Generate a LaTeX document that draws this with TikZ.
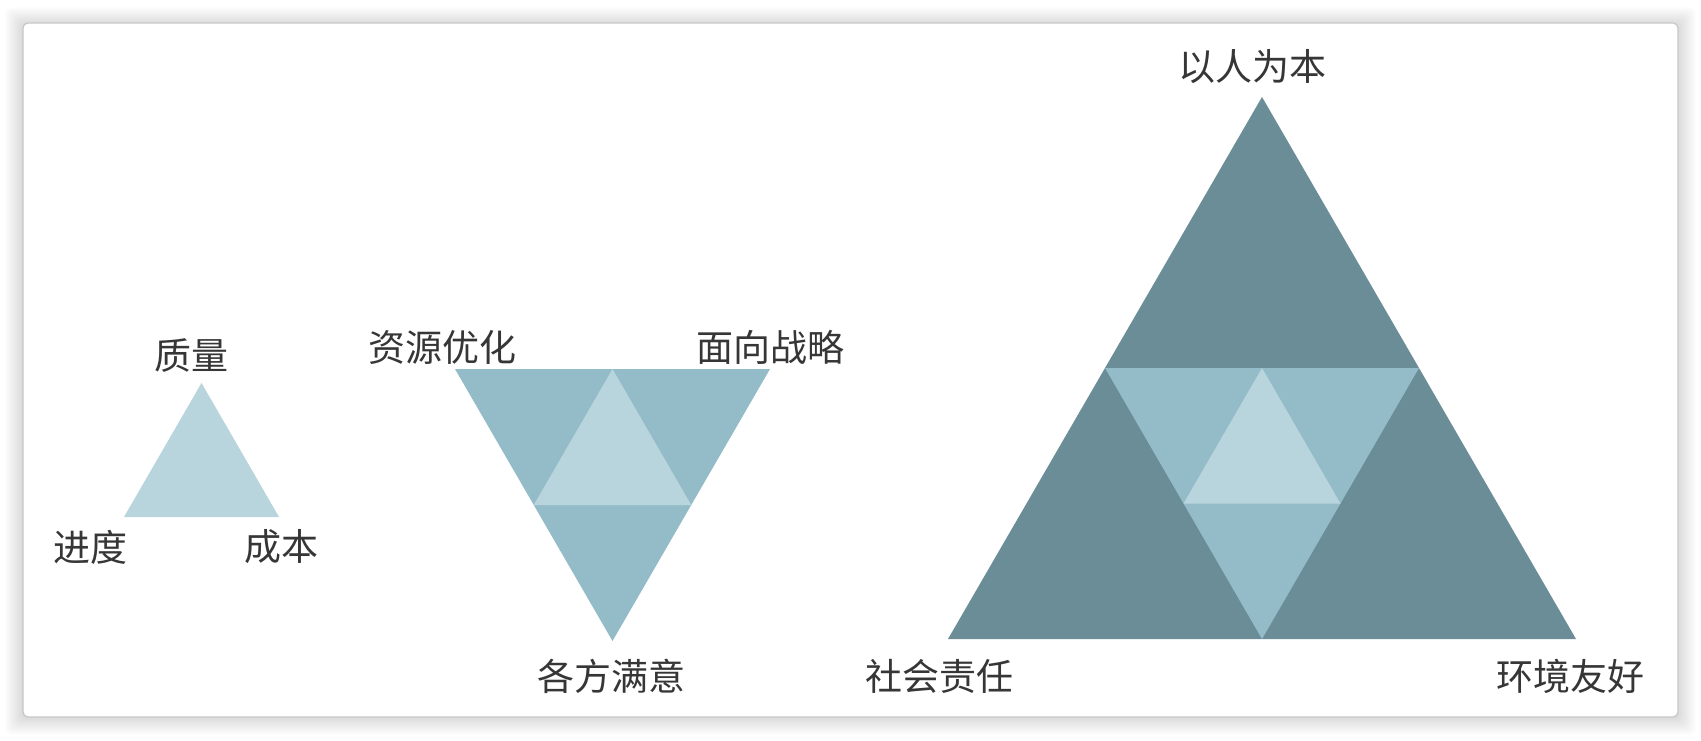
\documentclass[tikz,border=0pt]{standalone}
\usepackage{fontspec}
\newfontfamily\cjk{Noto Sans CJK SC}
\usetikzlibrary{positioning,calc}
\definecolor{deepteal}{HTML}{6B8D97}
\definecolor{midteal}{HTML}{94BCC8}
\definecolor{paleteal}{HTML}{B8D4DC}
\definecolor{labelgray}{HTML}{363636}

\begin{document}
\begin{tikzpicture}[x=1pt,y=-1pt,
        lbl/.style={text=labelgray,inner sep=0pt,font=\cjk\fontsize{37}{40}\selectfont}]
        % page and card
        \fill[white] (0,0) rectangle (1701,741);
        \useasboundingbox (0,0) rectangle (1701,741);
        \foreach \d in {1,...,18}
            \fill[black,opacity=0.007,rounded corners=6pt] (23-\d,23-\d+2) rectangle (1678+\d,717+\d);
        \draw[fill=white,draw=black!22,line width=1.2pt,rounded corners=5pt] (23,23) rectangle (1678,717);

        % small triangle
        \coordinate (qa) at (201.5,383);
        \coordinate (qb) at (124,517);
        \coordinate (qc) at (279,517);
        \fill[paleteal] (qa) -- (qb) -- (qc) -- cycle;
        \node [lbl] (quality) at (191,356) {质量};
        \node [lbl] (schedule) at (90,547) {进度};
        \node [lbl] (cost) at (281,547) {成本};

        % inverted triangle
        \coordinate (ma) at (455,369);
        \coordinate (mb) at (770,369);
        \coordinate (mc) at (612.5,641);
        \fill[midteal] (ma) -- (mb) -- (mc) -- cycle;
        \fill[paleteal] ($(ma)!0.5!(mb)$) -- ($(ma)!0.5!(mc)$) -- ($(mb)!0.5!(mc)$) -- cycle;
        \node [lbl] (resource) at (442,347) {资源优化};
        \node [lbl] (strategy) at (770,347) {面向战略};
        \node [lbl] (satisfy) at (611,676) {各方满意};

        % large triangle
        \coordinate (ba) at (1262,97);
        \coordinate (bb) at (948,639);
        \coordinate (bc) at (1576,639);
        \coordinate (bab) at ($(ba)!0.5!(bb)$);
        \coordinate (bac) at ($(ba)!0.5!(bc)$);
        \coordinate (bbc) at ($(bb)!0.5!(bc)$);
        \fill[deepteal] (ba) -- (bb) -- (bc) -- cycle;
        \fill[midteal] (bab) -- (bac) -- (bbc) -- cycle;
        \fill[paleteal] ($(bab)!0.5!(bac)$) -- ($(bab)!0.5!(bbc)$) -- ($(bac)!0.5!(bbc)$) -- cycle;
        \node [lbl] (people) at (1252,67) {以人为本};
        \node [lbl] (society) at (939,676) {社会责任};
        \node [lbl] (nature) at (1570,676) {环境友好};
\end{tikzpicture}
\end{document}
